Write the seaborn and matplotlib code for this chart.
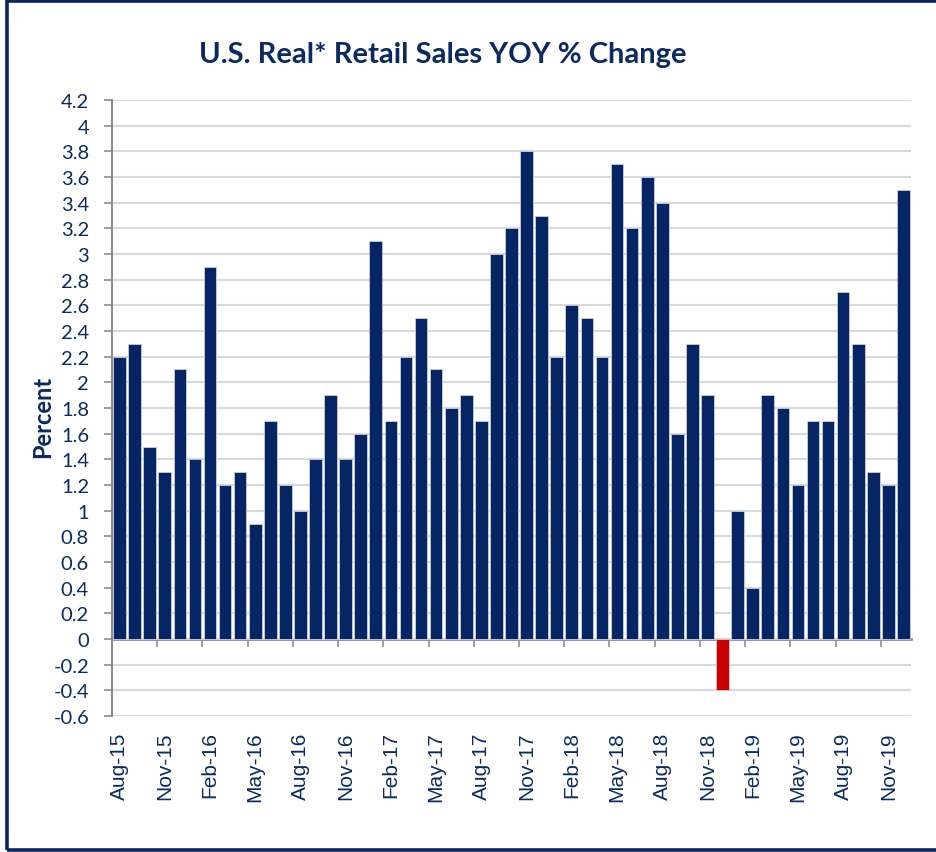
import numpy as np
import pandas as pd
import matplotlib
matplotlib.use("Agg")
import matplotlib.pyplot as plt
import seaborn as sns
from matplotlib.patches import Rectangle

# monthly YOY % change, Aug-15 .. Dec-19
months = list(pd.date_range("2015-08-01", periods=53, freq="MS").strftime("%b-%y"))
values = [2.2, 2.3, 1.5, 1.3, 2.1, 1.4, 2.9, 1.2, 1.3, 0.9, 1.7, 1.2,
          1.0, 1.4, 1.9, 1.4, 1.6, 3.1, 1.7, 2.2, 2.5, 2.1, 1.8, 1.9,
          1.7, 3.0, 3.2, 3.8, 3.3, 2.2, 2.6, 2.5, 2.2, 3.7, 3.2, 3.6,
          3.4, 1.6, 2.3, 1.9, -0.4, 1.0, 0.4, 1.9, 1.8, 1.2, 1.7, 1.7,
          2.7, 2.3, 1.3, 1.2, 3.5]
y_ticks = [-0.6, -0.4, -0.2, 0, 0.2, 0.4, 0.6, 0.8, 1, 1.2, 1.4, 1.6, 1.8,
           2, 2.2, 2.4, 2.6, 2.8, 3, 3.2, 3.4, 3.6, 3.8, 4, 4.2]

NAVY = "#062565"
RED = "#cc0000"
TEXT = "#0b2a62"
GRID = "#d9d9d9"
AXIS = "#8c8c8c"

df = pd.DataFrame({"month": months, "value": values})
df["sign"] = np.where(df["value"] < 0, "neg", "pos")

sns.set_style("white")
plt.rcParams["font.family"] = ["Lato", "DejaVu Sans"]

fig = plt.figure(figsize=(9.36, 8.53), dpi=100)
ax = fig.add_axes([112 / 936, 1 - 717 / 853, 799 / 936, 616 / 853])

sns.barplot(data=df, x="month", y="value", hue="sign", order=months,
            palette={"pos": NAVY, "neg": RED}, saturation=1, dodge=False,
            legend=False, width=0.84, edgecolor="#c9cfdb", linewidth=0.6,
            ax=ax, zorder=3)

ax.set_xlim(-0.5, len(months) - 0.5)
ax.set_ylim(-0.6, 4.2)
ax.set_yticks(y_ticks)
ax.set_yticklabels([f"{v:g}" for v in y_ticks], fontsize=14.5, color=TEXT)
ax.yaxis.grid(True, color=GRID, linewidth=1.5, zorder=0)
ax.set_axisbelow(True)

# month labels every 3rd bar at the bottom
ax.set_xticks(range(0, len(months), 3))
ax.set_xticklabels(months[::3], rotation=90, fontsize=15, color=TEXT,
                   family=["Liberation Sans", "DejaVu Sans"])
ax.tick_params(axis="x", length=0, pad=11)
ax.tick_params(axis="y", length=5.5, width=1.2, color=AXIS, pad=11, left=True)

for side in ["top", "right", "bottom"]:
    ax.spines[side].set_visible(False)
ax.spines["left"].set_color(AXIS)
ax.spines["left"].set_linewidth(1.5)

# category axis drawn along zero, ticks between groups
zero = ax.secondary_xaxis(0.6 / 4.8)
zero.set_xticks(np.arange(-0.5, len(months), 3))
zero.set_xticklabels([])
zero.tick_params(length=6, width=1.2, color=AXIS)
zero.spines["bottom"].set_color(AXIS)
zero.spines["bottom"].set_linewidth(2)

ax.set_xlabel("")
ax.set_ylabel("Percent", fontsize=17, fontweight="bold", color=TEXT)
ax.yaxis.set_label_coords((54 - 112) / 799, (717 - 417) / 616)

fig.text(0.473, 0.936, "U.S. Real* Retail Sales YOY % Change", ha="center",
         va="center", fontsize=21, fontweight="bold", color=TEXT)

fig.patches.append(Rectangle((7 / 936, 2.5 / 853), 1.2, 848.5 / 853,
                             transform=fig.transFigure, fill=False,
                             edgecolor="#0a2460", linewidth=2.6))

fig.savefig("out.png", dpi=100)
